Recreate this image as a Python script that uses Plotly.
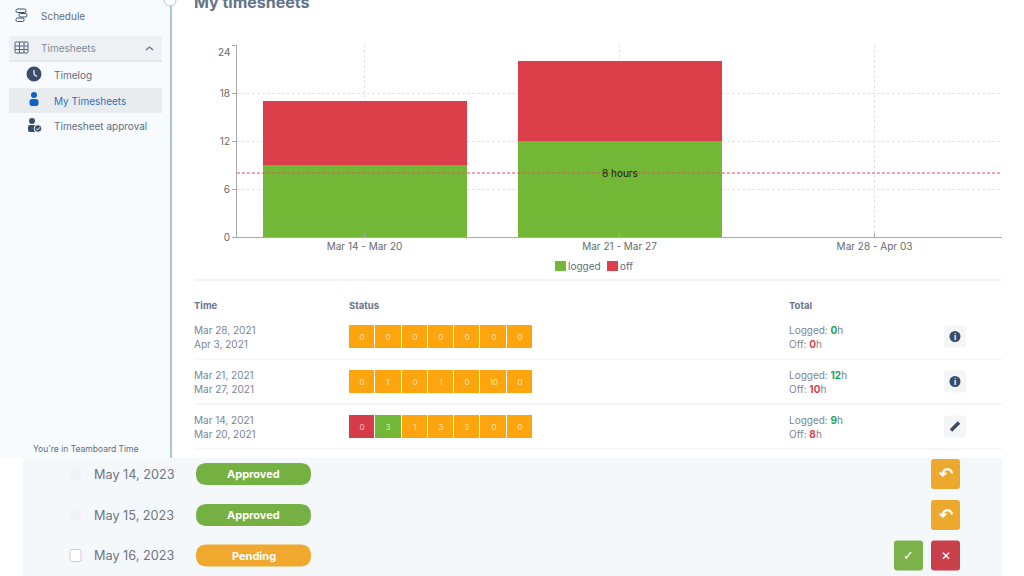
import plotly.graph_objs as go

W, H = 1024, 576
FONT = "Inter, Roboto, sans-serif"

week_labels = ["Mar 14 - Mar 20", "Mar 21 - Mar 27", "Mar 28 - Apr 03"]
logged_hours = [9, 12, 0]
off_hours = [8, 10, 0]
limit_hours = 8
limit_label = "8 hours"
y_ticks = [0, 6, 12, 18, 24]

row_start = ["Mar 28, 2021", "Mar 21, 2021", "Mar 14, 2021"]
row_end = ["Apr 3, 2021", "Mar 27, 2021", "Mar 20, 2021"]
day_hours = [
    [0, 0, 0, 0, 0, 0, 0],
    [0, 1, 0, 1, 0, 10, 0],
    [0, 3, 1, 3, 2, 0, 0],
]
# 0 pending, 1 rejected, 2 approved
day_state = [
    [0, 0, 0, 0, 0, 0, 0],
    [0, 0, 0, 0, 0, 0, 0],
    [1, 2, 0, 0, 0, 0, 0],
]
total_logged = [0, 12, 9]
total_off = [0, 10, 8]

approval_dates = ["May 14, 2023", "May 15, 2023", "May 16, 2023"]
approval_state = ["Approved", "Approved", "Pending"]

GREEN = "#72b836"
RED = "#dc3f4a"
ORANGE = "#fda50f"
SLATE = "#3b4c68"


def px(x):
    return x / W


def py(y):
    return 1 - y / H


def rounded(x0, y0, x1, y1, r):
    X0, X1, Y0, Y1 = px(x0), px(x1), py(y0), py(y1)
    rx, ry = r / W, r / H
    return (
        f"M{X0 + rx},{Y0} L{X1 - rx},{Y0} Q{X1},{Y0} {X1},{Y0 - ry} "
        f"L{X1},{Y1 + ry} Q{X1},{Y1} {X1 - rx},{Y1} "
        f"L{X0 + rx},{Y1} Q{X0},{Y1} {X0},{Y1 + ry} "
        f"L{X0},{Y0 - ry} Q{X0},{Y0} {X0 + rx},{Y0} Z"
    )


fig = go.Figure()


def box(x0, y0, x1, y1, color, r=0, line=None, layer="below"):
    fig.add_shape(
        type="path", path=rounded(x0, y0, x1, y1, r), xref="paper", yref="paper",
        fillcolor=color, line=dict(color=line or color, width=1 if line else 0), layer=layer,
    )


def rule(x0, y0, x1, y1, color, width=1, layer="below"):
    fig.add_shape(
        type="line", x0=px(x0), x1=px(x1), y0=py(y0), y1=py(y1), xref="paper", yref="paper",
        line=dict(color=color, width=width), layer=layer,
    )


def dot(cx, cy, r, color, line=None, layer="above"):
    fig.add_shape(
        type="circle", x0=px(cx - r), x1=px(cx + r), y0=py(cy - r), y1=py(cy + r),
        xref="paper", yref="paper", fillcolor=color,
        line=dict(color=line or color, width=1 if line else 0), layer=layer,
    )


def label(x, y, text, size=10, color="#7a8696", anchor="left", family=FONT):
    fig.add_annotation(
        x=px(x), y=py(y), xref="paper", yref="paper", text=text, showarrow=False,
        xanchor=anchor, yanchor="middle", align=anchor, borderpad=0, borderwidth=0,
        font=dict(size=size, color=color, family=family),
    )


# -----------------------------
# Sidebar
# -----------------------------
box(0, 0, 170, 458, "#f8fbfd")
box(9, 36, 162, 61, "#eef1f4")
rule(9, 61, 162, 61, "#d5dae0")
box(9, 88, 162, 113, "#e9ecef")
rule(171, 0, 171, 458, "#a9c6dd", 2)
dot(170, 0, 6, "#ffffff", "#a9c6dd")

label(41, 16, "Schedule", 10, "#5f6d7d")
label(41, 48, "Timesheets", 10, "#7c8a98")
label(54, 75, "Timelog", 10, "#5f6d7d")
label(54, 101, "My Timesheets", 10, "#2f70b8")
label(54, 126, "Timesheet approval", 10, "#5f6d7d")
label(33, 449, "You're in Teamboard Time", 8.5, "#5f6d7d")

# schedule icon
box(16, 9, 26, 12.5, "rgba(0,0,0,0)", 1.5, SLATE, "above")
box(19, 13.5, 27, 17, "rgba(0,0,0,0)", 1.5, SLATE, "above")
box(16, 18, 24, 21.5, "rgba(0,0,0,0)", 1.5, SLATE, "above")
# grid icon
box(15, 42, 28, 53, "rgba(0,0,0,0)", 1, "#55647a", "above")
rule(15, 46, 28, 46, "#55647a")
rule(15, 49.5, 28, 49.5, "#55647a")
rule(19.5, 42, 19.5, 53, "#55647a")
rule(24, 42, 24, 53, "#55647a")
# chevron
rule(146, 50, 149.5, 47, "#5f6d7d", 1.2)
rule(149.5, 47, 153, 50, "#5f6d7d", 1.2)
# clock icon
dot(34, 74, 7.5, SLATE)
rule(34, 70, 34, 74.5, "#ffffff", 1.2, "above")
rule(34, 74.5, 37, 76.5, "#ffffff", 1.2, "above")
# person icon
dot(34, 95, 3, "#1261c4")
box(29.5, 99, 38.5, 106, "#1261c4", 2.5, None, "above")
# person + check icon
dot(32, 121, 3, SLATE)
box(28, 125, 36, 132, SLATE, 2, None, "above")
dot(38, 128.5, 3.8, SLATE, "#f8fbfd")
rule(36.3, 128.6, 37.6, 130, "#ffffff", 1, "above")
rule(37.6, 130, 40, 127.2, "#ffffff", 1, "above")

# -----------------------------
# Main panel
# -----------------------------
label(194, 2, "<b>My timesheets</b>", 16, "#66748a")
rule(194, 280, 1002, 280, "#e7e9ec")

label(194, 305, "<b>Time</b>", 9.5, "#66748a")
label(349, 305, "<b>Status</b>", 9.5, "#66748a")
label(789, 305, "<b>Total</b>", 9.5, "#66748a")

row_y = [336.5, 381.5, 426.5]
row_icon = ["i", "i", "edit"]
for i, y in enumerate(row_y):
    rule(194, y + 22.5, 1002, y + 22.5, "#eef0f2")
    label(194, y - 7, row_start[i], 10)
    label(194, y + 7, row_end[i], 10)
    label(789, y - 7, f'Logged: <b><span style="color:#1fa35c">{total_logged[i]}</span></b>h', 10)
    label(789, y + 7, f'Off: <b><span style="color:{RED}">{total_off[i]}</span></b>h', 10)
    box(944, y - 11, 966, y + 11, "#f3f5f6", 3)
    if row_icon[i] == "i":
        dot(955, y, 5.5, SLATE)
        label(955, y, "<b>i</b>", 8, "#ffffff", "center")
    else:
        rule(951, y + 4, 959, y - 4, SLATE, 3.5, "above")

# -----------------------------
# Approval strip
# -----------------------------
box(23, 458, 1002, 576, "#f5f8fb")
pill_color = {"Approved": "#75b043", "Pending": "#f0a82e"}
strip_y = [474, 515, 555.5]
for i, y in enumerate(strip_y):
    state = approval_state[i]
    box(196, y - 11, 311, y + 11, pill_color[state], 11)
    label(253.5, y, f"<b>{state}</b>", 11, "#ffffff", "center")
    label(94, y, approval_dates[i], 12.7, "#6d7580")
    if state == "Pending":
        box(70, y - 6, 81, y + 6, "#ffffff", 2, "#c9ced4")
        box(894, y - 15, 923, y + 15, "#7bb34a", 3)
        label(908.5, y, "<b>\u2713</b>", 13, "#ffffff", "center", "DejaVu Sans")
        box(931, y - 15, 960, y + 15, "#c9404a", 3)
        label(945.5, y, "<b>\u2715</b>", 12, "#ffffff", "center", "DejaVu Sans")
    else:
        box(70, y - 6, 81, y + 6, "#f1f4f7", 2)
        box(931, y - 15, 960, y + 15, "#eda92e", 3)
        label(945.5, y, "<b>\u21b6</b>", 17, "#ffffff", "center", "DejaVu Sans")

# -----------------------------
# Stacked bar chart
# -----------------------------
fig.add_trace(go.Bar(x=week_labels, y=logged_hours, name="logged", marker=dict(color=GREEN, line_width=0)))
fig.add_trace(go.Bar(x=week_labels, y=off_hours, name="off", marker=dict(color=RED, line_width=0)))

fig.add_shape(
    type="line", xref="x domain", yref="y", x0=0, x1=1, y0=limit_hours, y1=limit_hours,
    line=dict(color="#e2505a", width=1, dash="3px,2px"), layer="above",
)
fig.add_annotation(
    x=week_labels[1], y=limit_hours, xref="x", yref="y", text=limit_label, showarrow=False,
    font=dict(size=10, color="#1a1a1a", family=FONT),
)
# the top tick label sits below its tick in the reference
fig.add_annotation(
    x=0, y=y_ticks[-1], xref="x domain", yref="y", text=str(y_ticks[-1]), showarrow=False,
    xanchor="right", xshift=-5, yshift=-7, font=dict(size=10, color="#6b6b6b", family=FONT),
)

# legend drawn by hand, the swatch sits closer to its text than plotly's own
box(555, 261, 566, 271, GREEN)
label(568, 266, fig.data[0].name, 10, "#5f6d7d")
box(607, 261, 618, 271, RED)
label(620, 266, fig.data[1].name, 10, "#5f6d7d")

# -----------------------------
# Status cells
# -----------------------------
fig.add_trace(go.Heatmap(
    z=day_state,
    text=day_hours,
    texttemplate="%{text}",
    textfont=dict(size=8, color="rgba(255,255,255,0.7)", family=FONT),
    colorscale=[[0, ORANGE], [0.33, ORANGE], [0.33, "#d63c48"], [0.66, "#d63c48"], [0.66, GREEN], [1, GREEN]],
    zmin=0,
    zmax=2,
    xgap=1,
    ygap=22,
    showscale=False,
    hoverinfo="skip",
    xaxis="x2",
    yaxis="y2",
))

grid = dict(color="#e2e4e6", dash="3px,2px")
fig.update_layout(
    width=W,
    height=H,
    autosize=False,
    margin=dict(l=0, r=0, t=0, b=0, pad=0, autoexpand=False),
    paper_bgcolor="#ffffff",
    plot_bgcolor="rgba(0,0,0,0)",
    barmode="stack",
    bargap=0.2,
    font=dict(family=FONT),
    showlegend=False,
    xaxis=dict(
        domain=[px(237), px(1002)],
        anchor="y",
        type="category",
        categoryorder="array",
        categoryarray=week_labels,
        range=[-0.5, 2.5],
        showline=True,
        linecolor="#a8a8a8",
        linewidth=1,
        ticks="inside",
        ticklen=4,
        tickcolor="#a8a8a8",
        tickfont=dict(size=10, color="#6b6b6b"),
        showgrid=True,
        gridcolor=grid["color"],
        griddash=grid["dash"],
        fixedrange=True,
    ),
    yaxis=dict(
        domain=[py(237), py(45)],
        anchor="x",
        range=[0, y_ticks[-1]],
        tickvals=y_ticks,
        ticktext=[str(t) for t in y_ticks[:-1]] + [""],
        showline=True,
        linecolor="#a8a8a8",
        linewidth=1,
        ticks="outside",
        ticklen=4,
        tickcolor="#a8a8a8",
        tickfont=dict(size=10, color="#6b6b6b"),
        showgrid=True,
        gridcolor=grid["color"],
        griddash=grid["dash"],
        zeroline=False,
        fixedrange=True,
    ),
    xaxis2=dict(domain=[px(349), px(533)], anchor="y2", visible=False, fixedrange=True),
    yaxis2=dict(domain=[py(449), py(314)], anchor="x2", visible=False, autorange="reversed", fixedrange=True),
)

fig.write_html(
    "out.html",
    post_script="document.body.style.margin='0';document.documentElement.style.overflow='hidden';",
    config=dict(displayModeBar=False, responsive=False),
)
